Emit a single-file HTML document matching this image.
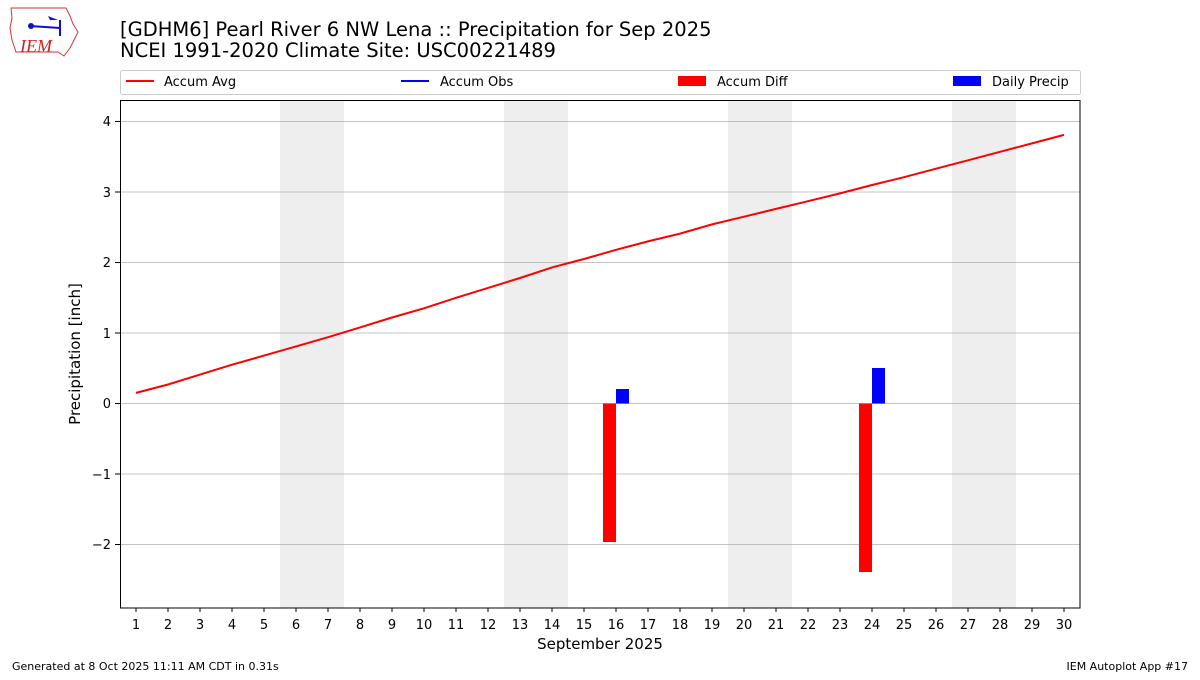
<!DOCTYPE html>
<html><head><meta charset="utf-8"><style>
body{margin:0;background:#fff;}
svg text{font-family:"DejaVu Sans","Liberation Sans",sans-serif;}
</style></head><body>
<svg width="1200" height="675" xmlns="http://www.w3.org/2000/svg">
<rect width="1200" height="675" fill="#fff"/>
<!-- logo -->
<path d="M11,8 L66,8 L70,16 L73,24 L78,32 L74,40 L70,48 L64,56 L58,52 L16,52 L12,40 L10,28 L12,18 Z" fill="none" stroke="#d33" stroke-width="1"/>
<line x1="30" y1="26" x2="60" y2="28" stroke="#11c" stroke-width="2"/>
<circle cx="31" cy="26" r="3" fill="#11c"/>
<path d="M48,16 L58,20 L50,20 Z" fill="#11c"/>
<line x1="60" y1="20" x2="60" y2="36" stroke="#11c" stroke-width="2"/>
<text x="20" y="52" font-style="italic" font-size="18" fill="#c22" style="font-family:'Liberation Serif',serif">IEM</text>
<text x="120" y="36" font-size="19.5">[GDHM6] Pearl River 6 NW Lena :: Precipitation for Sep 2025</text>
<text x="120" y="57" font-size="19.5">NCEI 1991-2020 Climate Site: USC00221489</text>
<!-- legend -->
<rect x="120.5" y="70.5" width="960" height="24" fill="#fff" stroke="#ccc" rx="2"/>
<line x1="126" y1="81" x2="154" y2="81" stroke="red" stroke-width="2"/>
<text x="164" y="86" font-size="13">Accum Avg</text>
<line x1="401" y1="81" x2="429" y2="81" stroke="blue" stroke-width="2"/>
<text x="440" y="86" font-size="13">Accum Obs</text>
<rect x="678" y="76" width="28" height="10" fill="red"/>
<text x="717" y="86" font-size="13">Accum Diff</text>
<rect x="953" y="76" width="28" height="10" fill="blue"/>
<text x="992" y="86" font-size="13">Daily Precip</text>
<!-- weekends -->
<g fill="#eeeeee">
<rect x="280" y="100" width="64" height="508"/>
<rect x="504" y="100" width="64" height="508"/>
<rect x="728" y="100" width="64" height="508"/>
<rect x="952" y="100" width="64" height="508"/>
</g>
<!-- grid -->
<g stroke="#b0b0b0" stroke-width="0.8">
<line x1="120" x2="1080" y1="121.5" y2="121.5"/>
<line x1="120" x2="1080" y1="192" y2="192"/>
<line x1="120" x2="1080" y1="262.5" y2="262.5"/>
<line x1="120" x2="1080" y1="333" y2="333"/>
<line x1="120" x2="1080" y1="403.5" y2="403.5"/>
<line x1="120" x2="1080" y1="474" y2="474"/>
<line x1="120" x2="1080" y1="544.5" y2="544.5"/>
</g>
<!-- bars -->
<rect x="603" y="403.5" width="13" height="138.5" fill="red"/>
<rect x="616" y="389" width="13" height="14.5" fill="blue"/>
<rect x="859" y="403.5" width="13" height="168.5" fill="red"/>
<rect x="872" y="368" width="13" height="35.5" fill="blue"/>
<polyline fill="none" stroke="red" stroke-width="2" points="136,392.9 168,384.5 200,374.6 232,364.7 264,355.6 296,346.4 328,337.2 360,327.4 392,317.5 424,308.3 456,297.8 488,287.9 520,278 552,267.4 584,259 616,249.8 648,241.4 680,233.6 712,224.4 744,216.7 776,208.9 808,201.2 840,193.4 872,185 904,177.2 936,168.7 968,160.3 1000,151.8 1032,143.4 1064,134.9"/>
<rect x="120.5" y="100.5" width="959.5" height="507.5" fill="none" stroke="#000" stroke-width="1"/>
<!-- y ticks -->
<g stroke="#000"><line x1="115" x2="120" y1="121.5" y2="121.5"/><line x1="115" x2="120" y1="192" y2="192"/><line x1="115" x2="120" y1="262.5" y2="262.5"/><line x1="115" x2="120" y1="333" y2="333"/><line x1="115" x2="120" y1="403.5" y2="403.5"/><line x1="115" x2="120" y1="474" y2="474"/><line x1="115" x2="120" y1="544.5" y2="544.5"/></g>
<g font-size="13" text-anchor="end">
<text x="111" y="126">4</text><text x="111" y="197">3</text><text x="111" y="267">2</text><text x="111" y="338">1</text><text x="111" y="408">0</text><text x="111" y="479">−1</text><text x="111" y="549">−2</text>
</g>
<text transform="translate(80,354) rotate(-90)" font-size="15" text-anchor="middle">Precipitation [inch]</text>
<!-- x ticks -->
<g font-size="13" text-anchor="middle">
<text x="136" y="629">1</text><text x="168" y="629">2</text><text x="200" y="629">3</text><text x="232" y="629">4</text><text x="264" y="629">5</text><text x="296" y="629">6</text><text x="328" y="629">7</text><text x="360" y="629">8</text><text x="392" y="629">9</text><text x="424" y="629">10</text><text x="456" y="629">11</text><text x="488" y="629">12</text><text x="520" y="629">13</text><text x="552" y="629">14</text><text x="584" y="629">15</text><text x="616" y="629">16</text><text x="648" y="629">17</text><text x="680" y="629">18</text><text x="712" y="629">19</text><text x="744" y="629">20</text><text x="776" y="629">21</text><text x="808" y="629">22</text><text x="840" y="629">23</text><text x="872" y="629">24</text><text x="904" y="629">25</text><text x="936" y="629">26</text><text x="968" y="629">27</text><text x="1000" y="629">28</text><text x="1032" y="629">29</text><text x="1064" y="629">30</text>
</g>
<g stroke="#000">
<path d="M136,608v4M168,608v4M200,608v4M232,608v4M264,608v4M296,608v4M328,608v4M360,608v4M392,608v4M424,608v4M456,608v4M488,608v4M520,608v4M552,608v4M584,608v4M616,608v4M648,608v4M680,608v4M712,608v4M744,608v4M776,608v4M808,608v4M840,608v4M872,608v4M904,608v4M936,608v4M968,608v4M1000,608v4M1032,608v4M1064,608v4"/>
</g>
<text x="600" y="649" font-size="15" text-anchor="middle">September 2025</text>
<text x="12" y="670" font-size="11">Generated at 8 Oct 2025 11:11 AM CDT in 0.31s</text>
<text x="1188" y="670" font-size="11" text-anchor="end">IEM Autoplot App #17</text>
</svg>
</body></html>
